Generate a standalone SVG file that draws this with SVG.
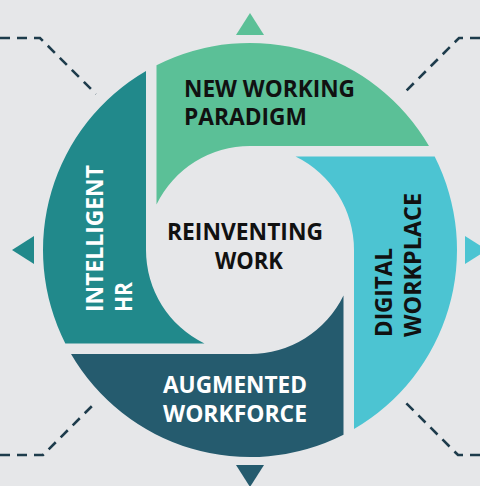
<svg xmlns="http://www.w3.org/2000/svg" width="480" height="486" viewBox="0 0 480 486">
<style>
.t{font-family:"Open Sans","Liberation Sans",sans-serif;font-weight:700;font-size:22.5px}
.dk{fill:#111111}
.wh{fill:#ffffff}
.dash{fill:none;stroke:#1E3C4C;stroke-width:2.6;stroke-dasharray:10 7}
</style>
<rect width="480" height="486" fill="#E6E7E9"/>
<g id="connectors">
<path class="dash" d="M0,38 H40 L96,94"/>
<path class="dash" d="M480,38 H459 L406,91"/>
<path class="dash" d="M0,455 H43 L93,405"/>
<path class="dash" d="M480,455 H458 L406,403"/>
</g>
<g id="new-working-paradigm">
<path d="M156.5,65.32 A207,207 0 0 1 428.98,146 L250,146 A104,104 0 0 0 156.5,204.46 Z" fill="#5BC097"/>
<path d="M236,35 L264,35 L250,13 Z" fill="#5BC097"/>
<text class="t dk" x="184" y="97" textLength="171" lengthAdjust="spacingAndGlyphs">NEW WORKING</text>
<text class="t dk" x="184" y="125" textLength="123" lengthAdjust="spacingAndGlyphs">PARADIGM</text>
</g>
<g id="digital-workplace">
<path d="M434.68,156.5 A207,207 0 0 1 354,428.98 L354,250 A104,104 0 0 0 295.54,156.5 Z" fill="#4CC4D2"/>
<path d="M465,236 L465,264 L487,250 Z" fill="#4CC4D2"/>
<g transform="translate(392,337) rotate(-90)">
<text class="t dk" x="0" y="0" textLength="89" lengthAdjust="spacingAndGlyphs">DIGITAL</text>
<text class="t dk" x="0" y="29" textLength="144" lengthAdjust="spacingAndGlyphs">WORKPLACE</text>
</g>
</g>
<g id="augmented-workforce">
<path d="M343.5,434.68 A207,207 0 0 1 71.02,354 L250,354 A104,104 0 0 0 343.5,295.54 Z" fill="#255B6E"/>
<path d="M236,465 L264,465 L250,487 Z" fill="#255B6E"/>
<text class="t wh" x="163" y="393" textLength="144" lengthAdjust="spacingAndGlyphs">AUGMENTED</text>
<text class="t wh" x="163" y="422" textLength="144" lengthAdjust="spacingAndGlyphs">WORKFORCE</text>
</g>
<g id="intelligent-hr">
<path d="M65.32,343.5 A207,207 0 0 1 146,71.02 L146,250 A104,104 0 0 0 204.46,343.5 Z" fill="#21898B"/>
<path d="M34,236 L34,264 L12,250 Z" fill="#21898B"/>
<g transform="translate(103,312) rotate(-90)">
<text class="t wh" x="0" y="0" textLength="147" lengthAdjust="spacingAndGlyphs">INTELLIGENT</text>
<text class="t wh" x="0" y="29" textLength="30" lengthAdjust="spacingAndGlyphs">HR</text>
</g>
</g>
<g id="reinventing-work">
<text class="t dk" x="245" y="240" text-anchor="middle" textLength="156" lengthAdjust="spacingAndGlyphs">REINVENTING</text>
<text class="t dk" x="249" y="269" text-anchor="middle" textLength="68" lengthAdjust="spacingAndGlyphs">WORK</text>
</g>
</svg>
